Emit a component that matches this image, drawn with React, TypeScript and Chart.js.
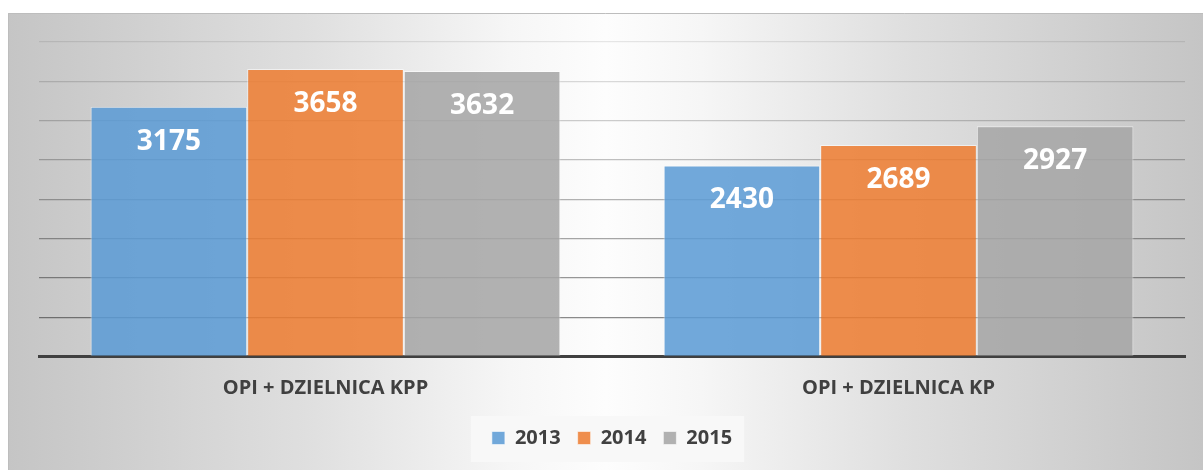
import React, { useEffect, useRef } from 'react';
import { Chart, registerables } from 'chart.js';

Chart.register(...registerables);

const categories = ['OPI + DZIELNICA KPP', 'OPI + DZIELNICA KP'];
const seriesLabels = ['2013', '2014', '2015'];
const values2013 = [3175, 2430];
const values2014 = [3658, 2689];
const values2015 = [3632, 2927];
const yMin = 0;
const yMax = 4000;
const yStep = 500;
const seriesColors = ['rgba(91,155,213,0.86)', 'rgba(237,125,49,0.86)', 'rgba(165,165,165,0.86)'];

const FONT = '"Open Sans", "DejaVu Sans", sans-serif';

const backgroundPlugin = {
  id: 'frameBackground',
  beforeDraw(chart: any) {
    const { ctx, width, height } = chart;
    ctx.save();
    ctx.fillStyle = '#ffffff';
    ctx.fillRect(0, 0, width, height);
    const x0 = 8;
    const y0 = 13;
    const g = ctx.createLinearGradient(x0, 0, width, 0);
    g.addColorStop(0, '#c5c5c5');
    g.addColorStop(0.08, '#cdcdcd');
    g.addColorStop(0.25, '#dfdfdf');
    g.addColorStop(0.42, '#f6f6f6');
    g.addColorStop(0.5, '#fdfdfd');
    g.addColorStop(0.58, '#f6f6f6');
    g.addColorStop(0.75, '#dfdfdf');
    g.addColorStop(0.92, '#cdcdcd');
    g.addColorStop(1, '#c5c5c5');
    ctx.fillStyle = g;
    ctx.fillRect(x0, y0, width - x0, height - y0);
    ctx.strokeStyle = '#bdbdbd';
    ctx.lineWidth = 1;
    ctx.beginPath();
    ctx.moveTo(x0 + 0.5, height);
    ctx.lineTo(x0 + 0.5, y0 + 0.5);
    ctx.lineTo(width, y0 + 0.5);
    ctx.stroke();

    const lg = chart.legend;
    if (lg && lg.legendHitBoxes && lg.legendHitBoxes.length) {
      const hb = lg.legendHitBoxes;
      let l = Infinity, r = -Infinity, cy = 0;
      hb.forEach((b: any) => {
        l = Math.min(l, b.left);
        r = Math.max(r, b.left + b.width);
        cy = b.top + b.height / 2;
      });
      ctx.fillStyle = '#f8f8f8';
      ctx.fillRect(l - 21, cy - 22, r - l + 33, 46);
    }
    ctx.restore();
  },
};

const valueLabelPlugin = {
  id: 'valueLabels',
  afterDatasetsDraw(chart: any) {
    const { ctx } = chart;
    ctx.save();
    ctx.font = `bold 28px ${FONT}`;
    ctx.fillStyle = '#ffffff';
    ctx.textAlign = 'center';
    ctx.textBaseline = 'alphabetic';
    chart.data.datasets.forEach((ds: any, i: number) => {
      const meta = chart.getDatasetMeta(i);
      meta.data.forEach((el: any, j: number) => {
        ctx.fillText(String(ds.data[j]), el.x, el.y + 43);
      });
    });
    ctx.restore();
  },
};

export default function App() {
  const canvasRef = useRef<HTMLCanvasElement | null>(null);

  useEffect(() => {
    if (!canvasRef.current) return;
    const seriesData = [values2013, values2014, values2015];
    const chart = new Chart(canvasRef.current, {
      type: 'bar',
      data: {
        labels: categories,
        datasets: seriesLabels.map((label, i) => ({
          label,
          data: seriesData[i],
          backgroundColor: seriesColors[i],
          borderColor: 'rgba(255,255,255,0.55)',
          borderWidth: 1,
          categoryPercentage: 0.82,
          barPercentage: 1,
        })),
      },
      options: {
        animation: false,
        responsive: false,
        maintainAspectRatio: false,
        layout: { padding: { left: 39, right: 18, top: 42, bottom: 12 } },
        plugins: {
          legend: {
            position: 'bottom',
            labels: {
              boxWidth: 13,
              boxHeight: 13,
              padding: 17,
              color: '#404040',
              font: { family: FONT, size: 20, weight: 'bold' },
            },
          },
          tooltip: { enabled: false },
        },
        scales: {
          x: {
            grid: { display: false, drawTicks: false },
            border: { display: true, color: '#404040', width: 3 },
            ticks: {
              color: '#404040',
              padding: 20,
              font: { family: FONT, size: 20, weight: 'bold' },
            },
            afterFit: (scale: any) => {
              scale.height = 54.5;
            },
          },
          y: {
            min: yMin,
            max: yMax,
            ticks: { display: false, stepSize: yStep },
            border: { display: false },
            grid: {
              drawTicks: false,
              lineWidth: 1.3,
              color: (c: any) => {
                const v = c.tick ? c.tick.value : 0;
                if (v <= 0) return 'rgba(0,0,0,0)';
                const a = 0.45 - ((v - yStep) / (yMax - yStep)) * 0.36;
                return `rgba(0,0,0,${a.toFixed(3)})`;
              },
            },
          },
        },
      },
      plugins: [backgroundPlugin, valueLabelPlugin],
    } as any);
    return () => chart.destroy();
  }, []);

  return (
    <div style={{ position: 'fixed', left: 0, top: 0, width: 1203, height: 470 }}>
      <canvas ref={canvasRef} width={1203} height={470} style={{ display: 'block' }} />
    </div>
  );
}
